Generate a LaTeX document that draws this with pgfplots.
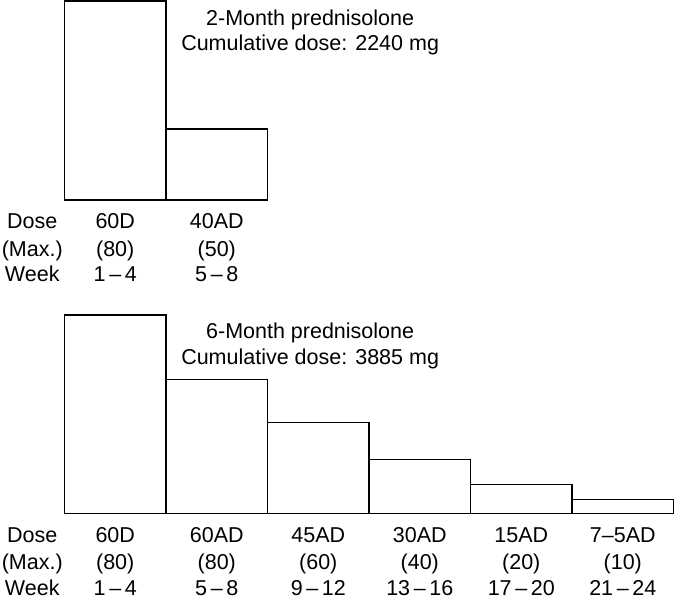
\documentclass[border=0pt]{standalone}
\usepackage{pgfplots}
\pgfplotsset{compat=1.18}
\usepackage{fontspec}
\setmainfont{Liberation Sans}
\begin{document}
\begin{tikzpicture}[x=1bp,y=1bp]
\useasboundingbox (0,0) rectangle (675,601);
\pgfplotsset{
  panel/.style={
    scale only axis, axis lines=none, clip=false,
    xmin=0, xmax=24, ymin=0, ymax=199,
    width=609bp, height=199bp, anchor=origin,
  },
  stepbars/.style={ybar interval, draw=black, fill=white, line width=1.4bp, mark=none},
}
% top panel
\begin{axis}[panel, at={(64.5bp,401bp)}]
\addplot[stepbars] coordinates {(0,199) (4,71) (8,71)};
\begin{scope}[every node/.style={anchor=base, font=\fontsize{21.5bp}{26bp}\selectfont}]
\node at (axis cs:-1.27,-29) {Dose};
\node at (axis cs:-1.27,-56.5) {(Max.)};
\node at (axis cs:-1.27,-82) {Week};
\node at (axis cs:2,-29) {60D};
\node at (axis cs:2,-56.5) {(80)};
\node at (axis cs:2,-82) {1\,--\,4};
\node at (axis cs:6,-29) {40AD};
\node at (axis cs:6,-56.5) {(50)};
\node at (axis cs:6,-82) {5\,--\,8};
\node at (axis cs:9.68,174.5) {2-Month prednisolone};
\node at (axis cs:9.68,149.5) {Cumulative dose: 2240 mg};
\end{scope}
\end{axis}
% bottom panel
\begin{axis}[panel, at={(64.5bp,87.5bp)}]
\addplot[stepbars] coordinates {(0,198.5) (4,134) (8,91) (12,54) (16,29) (20,14) (24,14)};
\begin{scope}[every node/.style={anchor=base, font=\fontsize{21.5bp}{26bp}\selectfont}]
\node at (axis cs:-1.27,-29) {Dose};
\node at (axis cs:-1.27,-56.5) {(Max.)};
\node at (axis cs:-1.27,-82) {Week};
\node at (axis cs:2,-29) {60D};
\node at (axis cs:2,-56.5) {(80)};
\node at (axis cs:2,-82) {1\,--\,4};
\node at (axis cs:6,-29) {60AD};
\node at (axis cs:6,-56.5) {(80)};
\node at (axis cs:6,-82) {5\,--\,8};
\node at (axis cs:10,-29) {45AD};
\node at (axis cs:10,-56.5) {(60)};
\node at (axis cs:10,-82) {9\,--\,12};
\node at (axis cs:14,-29) {30AD};
\node at (axis cs:14,-56.5) {(40)};
\node at (axis cs:14,-82) {13\,--\,16};
\node at (axis cs:18,-29) {15AD};
\node at (axis cs:18,-56.5) {(20)};
\node at (axis cs:18,-82) {17\,--\,20};
\node at (axis cs:22,-29) {7--5AD};
\node at (axis cs:22,-56.5) {(10)};
\node at (axis cs:22,-82) {21\,--\,24};
\node at (axis cs:9.68,175) {6-Month prednisolone};
\node at (axis cs:9.68,149) {Cumulative dose: 3885 mg};
\end{scope}
\end{axis}
\end{tikzpicture}
\end{document}
